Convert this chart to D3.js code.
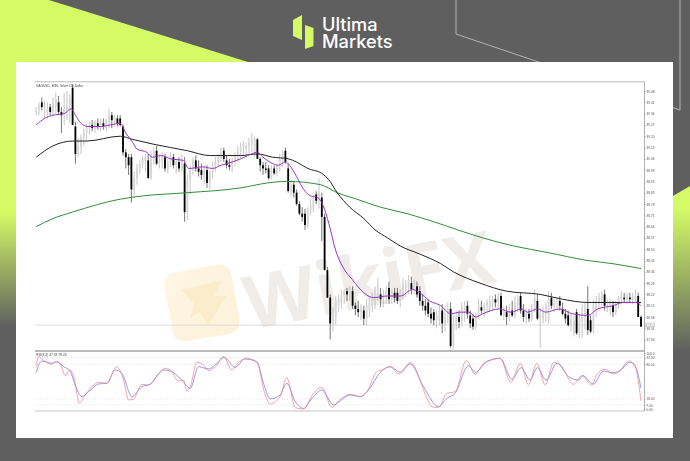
<!DOCTYPE html>
<html><head><meta charset="utf-8">
<script src="https://cdn.jsdelivr.net/npm/d3@7"></script>
<style>html,body{margin:0;padding:0;background:#5f5f5f;overflow:hidden}svg{display:block}</style>
</head><body><svg id="c" width="690" height="461"></svg>
<script>
const chartTitle = "XAGUSD, M30:  Silver US Dollar";
const oscTitle = "RSI(3,3) 47.33 78.24";
const priceTicks = [39.48,39.41,39.34,39.27,39.20,39.13,39.06,38.99,38.92,38.85,38.78,38.71,38.64,38.57,38.50,38.43,38.36,38.29,38.22,38.15,38.08,38.01,37.94];
const lastPrice = 38.03;
const oscTicks = [100,92,80,18,7,0];
const oscTickLabels = ["100.0","92.00","80.00","18.00","7.00","0.00"];
const oscLevels = [92,80,18,7];
const timeLabels = ["25 Jul 2025","25 Jul 04:00","25 Jul 08:00","25 Jul 12:00","25 Jul 16:00","25 Jul 20:00","28 Jul 00:00","28 Jul 04:00","28 Jul 08:00","28 Jul 12:00","28 Jul 16:00","28 Jul 20:00","29 Jul 00:00","29 Jul 04:00","29 Jul 08:00","29 Jul 12:00","29 Jul 16:00","29 Jul 20:00","30 Jul 00:00","30 Jul 04:00","30 Jul 08:00","30 Jul 12:00","30 Jul 16:00","30 Jul 20:00","31 Jul 00:00","31 Jul 04:00","31 Jul 08:00"];
// open, high, low, close per bar
const candles = [
[39.35,39.38,39.33,39.36],[39.36,39.41,39.33,39.39],[39.41,39.44,39.36,39.38],[39.38,39.42,39.31,39.39],[39.35,39.41,39.31,39.37],[39.38,39.40,39.33,39.35],[39.35,39.44,39.33,39.41],[39.38,39.47,39.34,39.43],[39.41,39.45,39.33,39.35],[39.35,39.38,39.22,39.33],
[39.33,39.47,39.27,39.37],[39.36,39.48,39.30,39.39],[39.39,39.46,39.28,39.44],[39.50,39.52,39.27,39.27],[39.26,39.29,39.03,39.09],[39.09,39.19,39.07,39.14],[39.13,39.21,39.09,39.19],[39.19,39.25,39.14,39.22],[39.22,39.28,39.17,39.25],[39.25,39.29,39.21,39.27],
[39.27,39.30,39.23,39.25],[39.25,39.30,39.22,39.28],[39.28,39.31,39.24,39.26],[39.26,39.31,39.23,39.28],[39.28,39.31,39.24,39.26],[39.26,39.31,39.23,39.29],[39.29,39.37,39.25,39.33],[39.33,39.35,39.25,39.30],[39.30,39.33,39.26,39.31],[39.31,39.33,39.26,39.28],
[39.31,39.33,39.26,39.27],[39.26,39.27,39.08,39.10],[39.10,39.12,39.00,39.07],[39.07,39.09,38.96,39.02],[39.07,39.09,38.79,38.87],[38.87,38.98,38.83,38.94],[38.94,39.03,38.90,39.00],[39.00,39.05,38.97,39.03],[39.03,39.08,39.00,39.06],[39.05,39.09,38.98,39.07],
[39.05,39.09,38.94,38.94],[38.94,39.11,38.93,39.09],[39.06,39.13,39.02,39.10],[39.11,39.14,39.02,39.03],[39.03,39.09,39.00,39.05],[39.05,39.10,39.00,39.07],[39.07,39.09,38.98,39.00],[39.00,39.06,38.97,39.04],[39.04,39.10,39.01,39.07],[39.07,39.09,39.00,39.02],
[39.02,39.06,38.97,39.04],[39.04,39.07,38.98,39.00],[39.00,39.09,38.98,39.06],[39.03,39.07,38.67,38.73],[38.73,38.96,38.68,38.93],[38.93,39.02,38.84,38.99],[38.99,39.07,38.96,39.05],[39.05,39.08,38.98,39.00],[39.00,39.05,38.95,38.98],[38.99,39.03,38.93,38.96],
[38.96,39.02,38.90,38.99],[38.99,39.02,38.88,38.91],[38.91,38.99,38.87,38.97],[38.97,39.04,38.94,39.01],[39.01,39.07,38.98,39.04],[39.04,39.09,39.01,39.07],[39.07,39.13,39.04,39.10],[39.11,39.13,39.04,39.06],[39.05,39.08,39.00,39.02],[39.02,39.06,38.99,39.01],
[39.01,39.07,38.98,39.05],[39.05,39.10,39.01,39.08],[39.08,39.14,39.04,39.11],[39.11,39.16,39.06,39.13],[39.13,39.17,39.08,39.15],[39.12,39.16,39.08,39.14],[39.14,39.19,39.09,39.16],[39.15,39.22,39.10,39.19],[39.10,39.20,39.07,39.18],[39.18,39.19,39.06,39.06],
[39.06,39.07,38.98,39.02],[39.02,39.04,38.96,39.00],[39.00,39.04,38.97,38.99],[39.00,39.02,38.93,38.94],[38.94,39.02,38.93,38.99],[39.00,39.02,38.96,38.97],[38.97,39.03,38.95,39.02],[39.02,39.09,38.98,39.06],[39.06,39.11,39.01,39.09],[39.11,39.13,39.03,39.04],
[39.00,39.03,38.85,38.86],[38.86,38.93,38.83,38.90],[38.90,38.92,38.82,38.85],[38.85,38.87,38.77,38.78],[38.78,38.80,38.71,38.72],[38.72,38.76,38.67,38.70],[38.72,38.75,38.62,38.65],[38.65,38.76,38.63,38.74],[38.74,38.81,38.71,38.77],[38.75,38.84,38.73,38.82],
[38.84,38.86,38.78,38.80],[38.80,38.94,38.75,38.85],[38.82,38.85,38.55,38.70],[38.70,38.72,38.37,38.37],[38.37,38.39,38.20,38.20],[38.20,38.22,37.94,38.04],[38.04,38.14,37.99,38.12],[38.08,38.21,38.03,38.18],[38.15,38.22,38.11,38.19],[38.17,38.25,38.13,38.21],
[38.21,38.25,38.16,38.24],[38.24,38.26,38.18,38.22],[38.22,38.27,38.18,38.25],[38.24,38.27,38.13,38.15],[38.15,38.17,38.09,38.13],[38.13,38.18,38.08,38.11],[38.11,38.16,38.06,38.14],[38.12,38.15,38.03,38.07],[38.07,38.19,38.03,38.15],[38.12,38.20,38.08,38.17],
[38.15,38.23,38.11,38.20],[38.19,38.27,38.13,38.25],[38.21,38.32,38.18,38.28],[38.22,38.26,38.14,38.19],[38.19,38.25,38.14,38.22],[38.21,38.27,38.16,38.24],[38.26,38.30,38.16,38.19],[38.19,38.25,38.16,38.23],[38.23,38.26,38.17,38.20],[38.23,38.26,38.16,38.18],
[38.18,38.25,38.14,38.23],[38.21,38.32,38.19,38.29],[38.25,38.31,38.20,38.28],[38.26,38.34,38.22,38.31],[38.29,38.33,38.22,38.25],[38.25,38.31,38.22,38.28],[38.27,38.30,38.20,38.22],[38.24,38.27,38.15,38.18],[38.18,38.22,38.12,38.15],[38.15,38.19,38.09,38.12],
[38.17,38.19,38.08,38.10],[38.10,38.14,38.04,38.07],[38.11,38.13,38.03,38.06],[38.06,38.12,38.01,38.09],[38.06,38.15,38.03,38.12],[38.12,38.16,37.98,38.04],[38.04,38.14,37.99,38.10],[38.10,38.17,38.04,38.13],[38.13,38.17,37.89,37.90],[37.90,38.09,37.88,38.04],
[38.04,38.12,38.00,38.08],[38.08,38.12,38.01,38.05],[38.05,38.17,38.02,38.14],[38.11,38.18,38.05,38.15],[38.15,38.18,38.07,38.10],[38.09,38.12,38.01,38.04],[38.07,38.10,38.00,38.02],[38.02,38.11,38.00,38.09],[38.09,38.19,38.07,38.15],[38.14,38.18,38.10,38.12],
[38.12,38.17,38.08,38.15],[38.15,38.19,38.11,38.17],[38.14,38.21,38.11,38.18],[38.16,38.21,38.12,38.19],[38.19,38.22,38.14,38.17],[38.17,38.23,38.13,38.21],[38.21,38.23,38.09,38.09],[38.09,38.14,38.06,38.12],[38.11,38.15,38.03,38.08],[38.08,38.16,38.05,38.13],
[38.12,38.18,38.08,38.09],[38.09,38.21,38.07,38.17],[38.15,38.22,38.11,38.19],[38.21,38.23,38.10,38.12],[38.12,38.16,38.05,38.08],[38.08,38.13,38.04,38.10],[38.10,38.13,38.05,38.07],[38.07,38.16,38.05,38.13],[38.13,38.25,38.11,38.20],[38.18,38.22,38.06,38.07],
[38.07,38.13,37.89,38.10],[38.07,38.14,38.04,38.12],[38.10,38.17,38.05,38.15],[38.06,38.24,38.04,38.19],[38.20,38.23,38.13,38.15],[38.15,38.19,38.11,38.17],[38.17,38.20,38.12,38.18],[38.18,38.21,38.12,38.15],[38.13,38.17,38.09,38.10],[38.10,38.13,38.04,38.07],
[38.09,38.12,38.02,38.03],[38.03,38.10,37.99,38.07],[37.98,38.09,37.96,38.06],[38.11,38.13,37.97,37.98],[37.98,38.10,37.95,38.07],[38.05,38.16,37.95,38.12],[38.08,38.17,38.00,38.14],[38.13,38.27,37.97,38.00],[38.06,38.09,37.98,37.99],[38.00,38.19,37.98,38.15],
[38.11,38.21,38.08,38.18],[38.16,38.23,38.12,38.20],[38.18,38.24,38.13,38.21],[38.22,38.25,38.12,38.15],[38.15,38.19,38.11,38.17],[38.15,38.19,38.09,38.17],[38.15,38.18,38.08,38.11],[38.11,38.18,38.09,38.16],[38.16,38.21,38.13,38.20],[38.19,38.24,38.16,38.22],
[38.20,38.23,38.17,38.19],[38.19,38.23,38.16,38.21],[38.20,38.23,38.17,38.19],[38.19,38.23,38.16,38.21],[38.19,38.25,38.17,38.21],[38.21,38.23,38.08,38.08],[38.08,38.09,38.02,38.02]];
// moving averages: [bar, price]
const maFast = [[0,39.27],[3,39.31],[6,39.33],[10,39.34],[12.5,39.37],[14,39.33],[16,39.28],[18.5,39.26],[23,39.26],[26.5,39.27],[30,39.28],[32,39.22],[34.5,39.16],[36,39.12],[39.5,39.10],[41.5,39.07],[44.5,39.08],[48,39.06],[52.5,39.05],[54.5,39.00],[59.5,39.01],[63,39.00],[66,39.02],[70,39.04],[73,39.06],[75.5,39.08],[79,39.10],[81,39.07],[84.5,39.03],[86.5,39.02],[89,39.04],[90.5,39.02],[93,38.95],[95.5,38.87],[98,38.83],[100.5,38.82],[102.5,38.77],[104.5,38.66],[107,38.49],[109.5,38.39],[113,38.31],[117,38.23],[120.5,38.20],[125.5,38.21],[130,38.21],[134.5,38.25],[137,38.23],[140.5,38.18],[144.5,38.15],[148,38.10],[151.5,38.11],[154.5,38.11],[157,38.08],[159.5,38.10],[165.5,38.13],[169.5,38.11],[173.5,38.13],[175.5,38.11],[179,38.13],[182,38.11],[187,38.13],[191.5,38.10],[197,38.09],[200.5,38.13],[206,38.15],[209.5,38.17],[214.5,38.17],[216,38.15]];
const maMid = [[0,39.07],[6,39.14],[13,39.17],[18,39.17],[30,39.20],[34.5,39.18],[42,39.15],[54,39.11],[62,39.08],[73,39.08],[79,39.09],[84.5,39.07],[90,39.06],[93,39.04],[97,39.00],[102,38.97],[104.5,38.93],[107.5,38.85],[112,38.76],[117,38.69],[121,38.62],[125.5,38.57],[130,38.52],[137,38.47],[144.5,38.41],[149,38.36],[158.5,38.29],[168,38.24],[180,38.22],[188,38.19],[197,38.17],[204,38.17],[216,38.17]];
const maSlow = [[0,38.64],[6,38.69],[13,38.73],[30,38.81],[38,38.83],[54,38.85],[73,38.88],[82.5,38.91],[89.5,38.92],[101.5,38.90],[107.5,38.85],[114.5,38.81],[123,38.76],[132.5,38.72],[142,38.67],[150.5,38.62],[159.5,38.57],[170.5,38.52],[182.5,38.48],[197,38.43],[206,38.41],[216,38.38]];
// oscillator lines: [bar, value]
const oscRed = [[0,75.6],[0.8,93.5],[2,89.3],[3.8,83.4],[5.6,79.8],[6.8,84.5],[8.6,79.8],[10.4,59.6],[11.9,69.7],[13.3,59.6],[15.5,10.2],[17.5,25],[19.9,39.9],[22.3,47.7],[25.2,45.9],[28.8,75.6],[31.2,51.8],[33,16.1],[34.8,17.9],[37.7,44.1],[40.1,42.9],[43.1,59.6],[46.1,72.6],[47.9,69.7],[50.8,50],[52.6,51.8],[53.8,32.2],[55,39.9],[57.4,83.4],[59.8,78.6],[61.6,68.5],[64,75.6],[66.9,93.5],[69.9,69.7],[72.3,83.4],[75.2,90.5],[78.8,83.4],[81.8,25],[83.6,9],[87.1,22.1],[89.5,56],[92.5,2.4],[95.5,0],[99,28],[102,38.7],[105.6,3],[108.3,16.1],[112.1,26.2],[115.7,22.1],[118.1,31],[121.7,66.7],[123.5,69.7],[126.4,75.6],[129.4,62.5],[133.6,82.8],[141.9,3],[143.7,3],[146.7,28],[149.6,31],[153.6,86.3],[156.8,62],[159.8,81.6],[165.7,90.5],[169.5,47.7],[172.9,81.6],[175.8,42.9],[178.8,81.6],[181.8,42.9],[184.8,83.4],[187.1,79.8],[191.9,44.1],[194.9,59.6],[198.4,42.9],[200.2,60.7],[203.2,70.9],[206.2,62.5],[208,66.7],[211.9,85.7],[213.9,75.6],[216,14.3]];
const oscBlue = [[0,65.5],[2,85.7],[5.6,81.6],[7.4,84.5],[9.8,75.6],[12.1,67.9],[13.9,42.9],[16.3,22.1],[18.7,31],[22.3,44.7],[25.2,45.9],[28.2,69.7],[30.6,63.7],[34.2,22.1],[37.7,39.9],[40.7,44.1],[45.5,69.7],[47.9,67.9],[52,51.8],[55,37],[58,75.6],[61.6,71.5],[64.5,81.6],[67.1,92.3],[71,74.4],[74.6,89.3],[78.8,84.5],[81.2,45.9],[83.6,17.9],[87.1,25],[89.5,45.9],[92.5,13.2],[95.5,1.2],[98.5,19.1],[102,34],[106.2,7.2],[108.3,13.2],[112.1,25],[115.7,22.1],[118.7,34],[122.9,65.5],[126.4,75.6],[130,65.5],[133.6,80.4],[138.3,39.9],[143.7,4.2],[146.7,19.1],[149.6,28],[154.4,77.4],[156.8,65.5],[160.9,84.5],[165.7,90.5],[169.9,53],[173.2,73.8],[176.4,51.8],[179,73.8],[182.1,51.8],[186,81.6],[190.1,57.8],[193.7,51.8],[195.2,59.6],[199,44.7],[202.6,67.9],[205.6,64.9],[208,66.7],[212.1,83.4],[213.9,77.4],[216,36.9]];

const GRAY="#5f5f5f", LIME="#d4fb66";
const svg=d3.select("#c");
const defs=svg.append("defs");
const gl=defs.append("linearGradient").attr("id","gl").attr("x1",0).attr("x2",0).attr("y1",0).attr("y2",1).attr("gradientUnits","objectBoundingBox");
[[0,LIME],[.46,LIME],[.71,GRAY]].forEach(s=>gl.append("stop").attr("offset",s[0]).attr("stop-color",s[1]));
const gr=defs.append("linearGradient").attr("id","gr").attr("x1",0).attr("x2",0).attr("y1",0).attr("y2",1);
[[0,LIME],[.08,LIME],[.6,GRAY]].forEach(s=>gr.append("stop").attr("offset",s[0]).attr("stop-color",s[1]));
const gw=defs.append("linearGradient").attr("id","gw").attr("x1",0).attr("x2",1).attr("y1",0).attr("y2",1);
[[0,"#fef6e4"],[1,"#fdf1d8"]].forEach(s=>gw.append("stop").attr("offset",s[0]).attr("stop-color",s[1]));
defs.append("clipPath").attr("id","xclip").append("rect").attr("x",35.5).attr("y",405).attr("width",630).attr("height",20);

// background
svg.append("rect").attr("width",690).attr("height",461).attr("fill",GRAY);
svg.append("polygon").attr("points","0,0 49,0 248,62 16,62 16,461 0,461").attr("fill",LIME);
svg.append("rect").attr("x",0).attr("y",0).attr("width",16).attr("height",461).attr("fill","url(#gl)");
svg.append("polygon").attr("points","673,196 690,186 690,461 673,461").attr("fill","url(#gr)");
svg.append("path").attr("d","M456,0V34L680,110V0").attr("fill","none").attr("stroke","#b4b4b4").attr("stroke-width",1);
svg.append("rect").attr("x",16).attr("y",62).attr("width",657).attr("height",376).attr("fill","#fff");

// logo
svg.append("polygon").attr("points","293,20 302,15 302,40 293,36").attr("fill",LIME);
svg.append("polygon").attr("points","305,25 313.5,28 313.5,46 305,49").attr("fill",LIME);
svg.append("text").attr("x",322).attr("y",30.7).attr("fill","#fff").attr("font-family","Inter").attr("font-weight",500).attr("font-size",18.2).text("Ultima");
svg.append("text").attr("x",322).attr("y",48).attr("fill","#fff").attr("font-family","Inter").attr("font-weight",500).attr("font-size",18.2).text("Markets");

// watermark
const wm=svg.append("g");
wm.append("rect").attr("x",168).attr("y",268).attr("width",68).attr("height",70).attr("rx",12).attr("fill","url(#gw)").attr("transform","rotate(-10 202 303)");
wm.append("path").attr("d","M182,290 L222,280 L214,296 L226,296 L208,326 L200,312 L190,318 L194,304 Z").attr("fill","#fbeccb");
wm.append("text").attr("transform","translate(250,330) rotate(-11)").attr("font-family","'Open Sans'").attr("font-weight",700).attr("font-size",74).attr("fill","#efecea").text("WikiFX");

const x=d3.scaleLinear().domain([0,216]).range([36.2,641]);
const y=d3.scaleLinear().domain([37.94,39.48]).range([339.6,91]);
const yo=d3.scaleLinear().domain([0,100]).range([409,353]);
const chart=svg.append("g").style("filter","blur(0.3px)");
const frame="#9a9a9a";
const FONT="'Liberation Sans'";

// frame
chart.append("line").attr("x1",35).attr("x2",644.5).attr("y1",81.8).attr("y2",81.8).attr("stroke","#aaa").attr("stroke-width",.8);
chart.append("line").attr("x1",35).attr("x2",644.5).attr("y1",351).attr("y2",351).attr("stroke","#777").attr("stroke-width",1);
chart.append("line").attr("x1",35).attr("x2",644.5).attr("y1",411).attr("y2",411).attr("stroke","#aaa").attr("stroke-width",.7);
chart.append("line").attr("x1",644.5).attr("x2",644.5).attr("y1",81.8).attr("y2",411).attr("stroke",frame).attr("stroke-width",.8);

// price line
chart.append("line").attr("x1",35).attr("x2",644.5).attr("y1",y(lastPrice)).attr("y2",y(lastPrice)).attr("stroke","#cfcfcf").attr("stroke-width",.7);

// y axis
const yAxis=d3.axisRight(y).tickValues(priceTicks).tickSize(1.6).tickPadding(.4).tickFormat(d3.format(".2f"));
const ya=chart.append("g").attr("transform","translate(644.5,0)").call(yAxis);
ya.select(".domain").remove();
ya.selectAll("line").attr("stroke","#888").attr("stroke-width",.4);
ya.selectAll("text").attr("font-family",FONT).attr("font-size",3.2).attr("fill","#555");
chart.append("rect").attr("x",645).attr("y",y(lastPrice)-2.4).attr("width",10).attr("height",4.8).attr("fill","#d2d2d2");
chart.append("text").attr("x",646.5).attr("y",y(lastPrice)+1.1).attr("font-family",FONT).attr("font-size",3.2).attr("fill","#fff").text(d3.format(".2f")(lastPrice));

// candles
const bodyW=1.8;
const cg=chart.append("g");
cg.selectAll("line").data(candles).join("line")
 .attr("x1",(d,i)=>x(i)).attr("x2",(d,i)=>x(i)).attr("y1",d=>y(d[1])).attr("y2",d=>y(d[2]))
 .attr("stroke",d=>d[3]<d[0]?"#1a1a1a":"#a0a0a0").attr("stroke-width",.6);
cg.selectAll("rect").data(candles).join("rect")
 .attr("x",(d,i)=>x(i)-bodyW/2).attr("width",bodyW)
 .attr("y",d=>y(Math.max(d[0],d[3]))).attr("height",d=>Math.max(.5,Math.abs(y(d[0])-y(d[3]))))
 .attr("fill",d=>d[3]<d[0]?"#000":"#d6d6d6");

// moving averages
const ln=d3.line().x(d=>x(d[0])).y(d=>y(d[1])).curve(d3.curveMonotoneX);
[[maSlow,"#2f8f35"],[maMid,"#222"],[maFast,"#9a35c0"]].forEach(([s,c])=>
 chart.append("path").datum(s).attr("d",ln).attr("fill","none").attr("stroke",c).attr("stroke-width",1));

chart.append("text").attr("x",36).attr("y",86.5).attr("font-family",FONT).attr("font-size",3.3).attr("fill","#444").text(chartTitle);

// oscillator
oscLevels.forEach(v=>chart.append("line").attr("x1",35).attr("x2",644.5).attr("y1",yo(v)).attr("y2",yo(v)).attr("stroke","#bbb").attr("stroke-width",.4).attr("stroke-dasharray","1 1.4"));
const lo=d3.line().x(d=>x(d[0])).y(d=>yo(d[1])).curve(d3.curveMonotoneX);
chart.append("path").datum(oscBlue).attr("d",lo).attr("fill","none").attr("stroke","#6f6fdc").attr("stroke-width",.7);
chart.append("path").datum(oscRed).attr("d",lo).attr("fill","none").attr("stroke","#ea7f86").attr("stroke-width",.7);
chart.append("text").attr("x",36).attr("y",356).attr("font-family",FONT).attr("font-size",3.3).attr("fill","#444").text(oscTitle);
const oa=chart.append("g").attr("transform","translate(644.5,0)").call(d3.axisRight(yo).tickValues(oscTicks).tickSize(1.6).tickPadding(.4).tickFormat((d,i)=>oscTickLabels[i]));
oa.select(".domain").remove();
oa.selectAll("line").attr("stroke","#888").attr("stroke-width",.4);
oa.selectAll("text").attr("font-family",FONT).attr("font-size",3.2).attr("fill","#555");

// time axis
const tickBars=timeLabels.map((_,i)=>i*8);
const xa=chart.append("g").attr("transform","translate(0,411)").attr("clip-path","url(#xclip)").call(d3.axisBottom(x).tickValues(tickBars).tickSize(1.2).tickPadding(.4).tickFormat((d,i)=>timeLabels[i]));
xa.select(".domain").remove();
xa.selectAll("line").attr("stroke","#888").attr("stroke-width",.4);
xa.selectAll("text").attr("font-family",FONT).attr("font-size",3.2).attr("fill","#555");
</script></body></html>
